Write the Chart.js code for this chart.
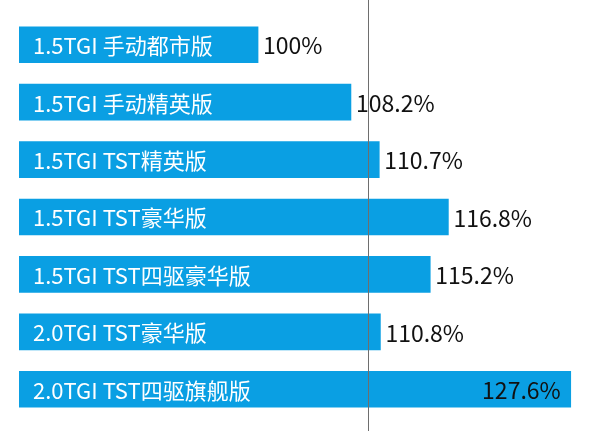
<!DOCTYPE html>
<html>
<head>
<meta charset="utf-8">
<script src="https://cdn.jsdelivr.net/npm/chart.js@4"></script>
<style>
  html, body { margin: 0; padding: 0; background: #fff; }
  #wrap { position: relative; width: 600px; height: 431px; }
</style>
</head>
<body>
<div id="wrap"><canvas id="chart"></canvas></div>
<script>
const models = [
  '1.5TGI 手动都市版',
  '1.5TGI 手动精英版',
  '1.5TGI TST精英版',
  '1.5TGI TST豪华版',
  '1.5TGI TST四驱豪华版',
  '2.0TGI TST豪华版',
  '2.0TGI TST四驱旗舰版'
];
const ratios = [100, 108.2, 110.7, 116.8, 115.2, 110.8, 127.6];
const refValue = 109.7;

const barColor = '#0a9fe3';
const font = '"Noto Sans CJK SC", "Noto Sans", sans-serif';

// model name inside each bar, percentage after it (inside when it won't fit)
const labelPlugin = {
  id: 'labels',
  afterDatasetsDraw(chart) {
    const ctx = chart.ctx;
    const area = chart.chartArea;
    const meta = chart.getDatasetMeta(0);
    ctx.save();
    ctx.textBaseline = 'middle';
    meta.data.forEach((bar, i) => {
      ctx.font = '22px ' + font;
      ctx.fillStyle = '#fff';
      ctx.textAlign = 'left';
      ctx.fillText(models[i], area.left + 14, bar.y + 1);

      const txt = ratios[i] === 100 ? '100%' : ratios[i].toFixed(1) + '%';
      ctx.font = '23px ' + font;
      ctx.fillStyle = '#111';
      const w = ctx.measureText(txt).width;
      if (bar.x + 5 + w > chart.width) {
        ctx.textAlign = 'right';
        ctx.fillText(txt, bar.x - 10, bar.y + 1);
      } else {
        ctx.fillText(txt, bar.x + 5, bar.y + 1);
      }
    });
    ctx.restore();
  }
};

const refLinePlugin = {
  id: 'refLine',
  afterDatasetsDraw(chart) {
    const ctx = chart.ctx;
    const x = Math.round(chart.scales.x.getPixelForValue(refValue)) + 0.5;
    ctx.save();
    ctx.strokeStyle = '#6e6e6e';
    ctx.lineWidth = 1;
    ctx.beginPath();
    ctx.moveTo(x, 0);
    ctx.lineTo(x, chart.height);
    ctx.stroke();
    ctx.restore();
  }
};

new Chart(document.getElementById('chart'), {
  type: 'bar',
  data: {
    labels: models,
    datasets: [{
      data: ratios,
      backgroundColor: barColor,
      borderWidth: 0,
      barThickness: 36
    }]
  },
  options: {
    indexAxis: 'y',
    responsive: true,
    maintainAspectRatio: false,
    animation: false,
    layout: { padding: { left: 19, right: 10, top: 16, bottom: 13 } },
    plugins: {
      legend: { display: false },
      tooltip: { enabled: false }
    },
    scales: {
      x: { display: false, min: 78.9, max: 129.3 },
      y: { display: false }
    }
  },
  plugins: [refLinePlugin, labelPlugin]
});
</script>
</body>
</html>
